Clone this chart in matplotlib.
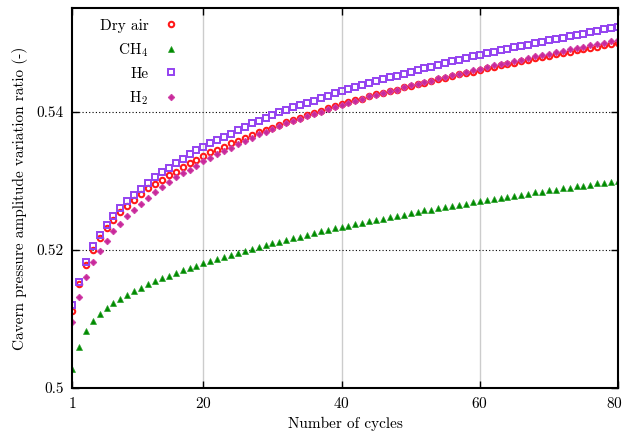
import matplotlib
matplotlib.use("Agg")
import matplotlib.pyplot as plt
import matplotlib.transforms as mtransforms

plt.rcParams['font.family'] = 'serif'
plt.rcParams['font.serif'] = ['cmr10', 'DejaVu Serif']
plt.rcParams['mathtext.fontset'] = 'cm'
plt.rcParams['axes.formatter.use_mathtext'] = True

cycles = list(range(1, 81))

dry_air = [0.5111, 0.5150, 0.5178, 0.5200, 0.5217, 0.5231, 0.5243, 0.5255, 0.5264, 0.5272,
           0.5281, 0.5289, 0.5295, 0.5301, 0.5308, 0.5313, 0.5320, 0.5326, 0.5330, 0.5336,
           0.5341, 0.5345, 0.5349, 0.5354, 0.5358, 0.5362, 0.5366, 0.5371, 0.5374, 0.5377,
           0.5381, 0.5385, 0.5388, 0.5391, 0.5395, 0.5398, 0.5401, 0.5405, 0.5408, 0.5411,
           0.5414, 0.5417, 0.5419, 0.5422, 0.5425, 0.5427, 0.5430, 0.5432, 0.5435, 0.5437,
           0.5440, 0.5442, 0.5445, 0.5447, 0.5449, 0.5452, 0.5454, 0.5456, 0.5458, 0.5461,
           0.5463, 0.5465, 0.5467, 0.5469, 0.5471, 0.5473, 0.5475, 0.5477, 0.5479, 0.5481,
           0.5483, 0.5485, 0.5487, 0.5489, 0.5490, 0.5492, 0.5494, 0.5496, 0.5498, 0.5500]

ch4 = [0.5028, 0.5059, 0.5083, 0.5097, 0.5107, 0.5116, 0.5123, 0.5129, 0.5135, 0.5141,
       0.5145, 0.5150, 0.5155, 0.5159, 0.5162, 0.5167, 0.5171, 0.5174, 0.5177, 0.5181,
       0.5184, 0.5187, 0.5190, 0.5193, 0.5196, 0.5198, 0.5201, 0.5204, 0.5207, 0.5210,
       0.5212, 0.5214, 0.5217, 0.5219, 0.5222, 0.5224, 0.5227, 0.5229, 0.5231, 0.5233,
       0.5235, 0.5237, 0.5239, 0.5241, 0.5243, 0.5245, 0.5247, 0.5249, 0.5251, 0.5253,
       0.5255, 0.5257, 0.5258, 0.5260, 0.5262, 0.5264, 0.5265, 0.5267, 0.5269, 0.5270,
       0.5272, 0.5274, 0.5275, 0.5277, 0.5278, 0.5280, 0.5281, 0.5283, 0.5284, 0.5286,
       0.5287, 0.5289, 0.5290, 0.5292, 0.5293, 0.5294, 0.5296, 0.5297, 0.5298, 0.5300]

he = [0.5120, 0.5154, 0.5183, 0.5205, 0.5221, 0.5236, 0.5249, 0.5260, 0.5270, 0.5280,
      0.5288, 0.5296, 0.5305, 0.5313, 0.5318, 0.5326, 0.5332, 0.5338, 0.5344, 0.5349,
      0.5354, 0.5359, 0.5364, 0.5368, 0.5373, 0.5378, 0.5383, 0.5387, 0.5391, 0.5395,
      0.5399, 0.5402, 0.5406, 0.5410, 0.5413, 0.5416, 0.5420, 0.5423, 0.5427, 0.5430,
      0.5433, 0.5436, 0.5439, 0.5442, 0.5444, 0.5447, 0.5450, 0.5452, 0.5455, 0.5458,
      0.5460, 0.5463, 0.5465, 0.5468, 0.5470, 0.5473, 0.5475, 0.5478, 0.5480, 0.5482,
      0.5485, 0.5487, 0.5489, 0.5491, 0.5493, 0.5495, 0.5497, 0.5499, 0.5501, 0.5503,
      0.5505, 0.5507, 0.5509, 0.5511, 0.5513, 0.5515, 0.5517, 0.5519, 0.5521, 0.5523]

h2 = [0.5096, 0.5131, 0.5160, 0.5182, 0.5199, 0.5213, 0.5227, 0.5238, 0.5249, 0.5258,
      0.5267, 0.5275, 0.5284, 0.5291, 0.5298, 0.5305, 0.5311, 0.5316, 0.5322, 0.5328,
      0.5333, 0.5338, 0.5343, 0.5348, 0.5353, 0.5357, 0.5362, 0.5367, 0.5371, 0.5375,
      0.5379, 0.5383, 0.5386, 0.5390, 0.5394, 0.5397, 0.5400, 0.5404, 0.5407, 0.5410,
      0.5413, 0.5416, 0.5419, 0.5422, 0.5424, 0.5427, 0.5430, 0.5432, 0.5435, 0.5438,
      0.5440, 0.5443, 0.5445, 0.5448, 0.5450, 0.5453, 0.5455, 0.5458, 0.5460, 0.5462,
      0.5465, 0.5467, 0.5469, 0.5471, 0.5473, 0.5475, 0.5478, 0.5480, 0.5482, 0.5484,
      0.5486, 0.5488, 0.5490, 0.5492, 0.5494, 0.5496, 0.5498, 0.5500, 0.5502, 0.5504]

x_ticks = [1, 20, 40, 60, 80]
y_ticks = [0.5, 0.52, 0.54]
y_ticklabels = ['0.5', '0.52', '0.54']

fig = plt.figure(figsize=(6.24, 4.38), dpi=100)
ax = fig.add_axes([0.1154, 0.1142, 0.875, 0.8675])

# grid: light gray verticals, dotted black horizontals
for xv in x_ticks[1:-1]:
    ax.axvline(xv, color='#cccccc', lw=1.0, zorder=0)
for yv in y_ticks[1:]:
    ax.axhline(yv, color='black', lw=0.8, ls=(0, (1, 2)), zorder=0)

ax.plot(cycles, dry_air, ls='none', marker='o', ms=3.9, mfc='none', mec='#ff1a1a', mew=1.5, label='Dry air')
ax.plot(cycles, ch4, ls='none', marker='^', ms=4.3, color='#008a00', mec='#2aa02a', mew=0.5, label='CH$_4$')
ax.plot(cycles, he, ls='none', marker='s', ms=3.8, mfc='none', mec='#9442f0', mew=1.4, label='He')
ax.plot(cycles, h2, ls='none', marker='D', ms=3.2, color='#c8289a', mec='#d040a8', mew=0.8, label='H$_2$')

ax.set_xlim(1, 80)
ax.set_ylim(0.5, 0.555)
ax.set_xticks(x_ticks)
ax.set_yticks(y_ticks)
ax.set_yticklabels(y_ticklabels)
ax.tick_params(direction='in', top=True, right=True, length=5, width=1, labelsize=11, pad=6)
for s in ax.spines.values():
    s.set_linewidth(1.5)

# keep the last x label inside the canvas
last = ax.get_xticklabels()[-1]
last.set_transform(last.get_transform() + mtransforms.ScaledTranslation(-4 / 100, 0, fig.dpi_scale_trans))

ax.set_xlabel('Number of cycles', fontsize=11, labelpad=4)
ax.set_ylabel('Cavern pressure amplitude variation ratio (-)', fontsize=11, labelpad=6)

ax.legend(loc='upper left', bbox_to_anchor=(0.031, 1.0), frameon=False, markerfirst=False,
          numpoints=1, handlelength=1.0, handletextpad=1.0, labelspacing=0.55, fontsize=11,
          borderaxespad=0.3)

fig.savefig('out.png', dpi=100)
